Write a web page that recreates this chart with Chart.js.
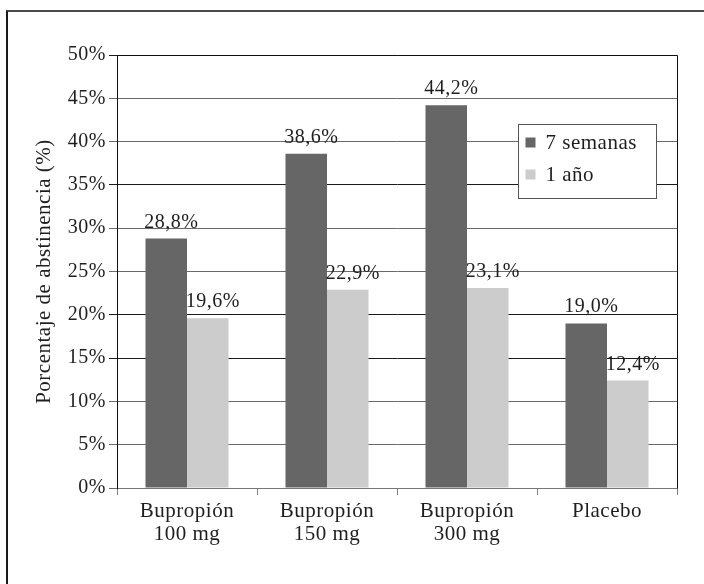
<!DOCTYPE html>
<html>
<head>
<meta charset="utf-8">
<script src="https://cdn.jsdelivr.net/npm/chart.js@4/dist/chart.umd.min.js"></script>
<style>
  html, body { margin: 0; padding: 0; background: #fff; }
  #wrap { position: relative; width: 704px; height: 584px; overflow: hidden; }
  #frame { position: absolute; left: 6px; top: 10px; right: -4px; bottom: -4px;
           border-top: 2px solid #4a4a4a; border-left: 2px solid #1a1a1a; pointer-events: none; }
  canvas { position: absolute; left: 0; top: 0; }
</style>
</head>
<body>
<div id="wrap">
  <canvas id="chart" width="704" height="584"></canvas>
  <div id="frame"></div>
</div>
<script>
// Groups on the x axis (multi-line labels)
const categories = [
  ["Bupropión", "100 mg"],
  ["Bupropión", "150 mg"],
  ["Bupropión", "300 mg"],
  ["Placebo"]
];
// Series names
const seriesNames = ["7 semanas", "1 año"];
// Abstinence rates (%)
const sevenWeeks = [28.8, 38.6, 44.2, 19.0];
const oneYear = [19.6, 22.9, 23.1, 12.4];
// Y axis range and step (%)
const yMin = 0;
const yMax = 50;
const yStep = 5;

const SERIF = "'Liberation Serif', 'Times New Roman', serif";
const TEXT = "#1e1e1e";
const DARK = "#666666";
const LIGHT = "#cccccc";

const fmtPct = v => v.toFixed(1).replace(".", ",") + "%";

// Slightly open letter spacing for all canvas text
const textSpacing = {
  id: "textSpacing",
  beforeDraw(chart) { chart.ctx.letterSpacing = "0.5px"; }
};

// Value labels above each bar
const valueLabels = {
  id: "valueLabels",
  afterDatasetsDraw(chart) {
    const ctx = chart.ctx;
    ctx.save();
    ctx.font = "20px " + SERIF;
    ctx.fillStyle = TEXT;
    ctx.textAlign = "center";
    ctx.textBaseline = "alphabetic";
    chart.data.datasets.forEach((ds, i) => {
      chart.getDatasetMeta(i).data.forEach((bar, j) => {
        ctx.fillText(fmtPct(ds.data[j]), bar.x + 5, bar.y - 11);
      });
    });
    ctx.restore();
  }
};

// Top and right edges of the plot box
const plotBox = {
  id: "plotBox",
  afterDatasetsDraw(chart) {
    const { ctx, chartArea: a } = chart;
    ctx.save();
    ctx.strokeStyle = "#111";
    ctx.lineWidth = 1;
    ctx.beginPath();
    ctx.moveTo(Math.round(a.left) + 0.5, Math.round(a.top) + 0.5);
    ctx.lineTo(Math.round(a.right) + 0.5, Math.round(a.top) + 0.5);
    ctx.lineTo(Math.round(a.right) + 0.5, Math.round(a.bottom) + 0.5);
    ctx.stroke();
    ctx.restore();
  }
};

// Boxed legend inside the plot, upper right
const boxLegend = {
  id: "boxLegend",
  afterDraw(chart) {
    const { ctx, chartArea: a } = chart;
    const w = 138, h = 74;
    const x = Math.round(a.right - 159) + 0.5;
    const y = Math.round(a.top + 69) + 0.5;
    ctx.save();
    ctx.fillStyle = "#fff";
    ctx.fillRect(x, y, w, h);
    ctx.strokeStyle = "#555";
    ctx.lineWidth = 1;
    ctx.strokeRect(x, y, w, h);
    ctx.font = "21px " + SERIF;
    ctx.textAlign = "left";
    ctx.textBaseline = "alphabetic";
    chart.data.datasets.forEach((ds, i) => {
      const cy = y + 18 + i * 32;
      ctx.fillStyle = ds.backgroundColor;
      ctx.fillRect(x + 7, cy - 5, 10, 10);
      ctx.fillStyle = TEXT;
      ctx.fillText(ds.label, x + 27, cy + 6);
    });
    ctx.restore();
  }
};

const darkGrid = new Set([50, 35, 20, 15]);

new Chart(document.getElementById("chart"), {
  type: "bar",
  data: {
    labels: categories,
    datasets: [
      { label: seriesNames[0], data: sevenWeeks, backgroundColor: DARK, borderWidth: 0 },
      { label: seriesNames[1], data: oneYear, backgroundColor: LIGHT, borderWidth: 0 }
    ]
  },
  options: {
    responsive: false,
    animation: false,
    devicePixelRatio: 1,
    layout: { padding: { top: 55, right: 27, bottom: 0, left: 0 } },
    datasets: { bar: { categoryPercentage: 0.593, barPercentage: 1.0 } },
    plugins: { legend: { display: false }, tooltip: { enabled: false } },
    scales: {
      x: {
        grid: { display: true, drawOnChartArea: false, drawTicks: true, tickLength: 7, color: "#808080", offset: true },
        border: { display: true, color: "#777" },
        ticks: { color: TEXT, padding: 5, maxRotation: 0, autoSkip: false,
                 font: { family: SERIF, size: 21, lineHeight: 1.08 } },
        afterFit(scale) { scale.height = 96; }
      },
      y: {
        min: yMin,
        max: yMax,
        ticks: { stepSize: yStep, color: TEXT, padding: 3,
                 font: { family: SERIF, size: 20 },
                 callback: v => v + "%" },
        grid: { tickLength: 8, lineWidth: 1,
                color: c => (c.tick && darkGrid.has(c.tick.value)) ? "#1a1a1a" : "#6a6a6a" },
        border: { display: true, color: "#111" },
        title: { display: true, text: "Porcentaje de abstinencia (%)", color: TEXT,
                 font: { family: SERIF, size: 21 }, padding: { top: 32, bottom: 0 } },
        afterFit(scale) { scale.width = 117; }
      }
    }
  },
  plugins: [textSpacing, valueLabels, plotBox, boxLegend]
});
</script>
</body>
</html>
